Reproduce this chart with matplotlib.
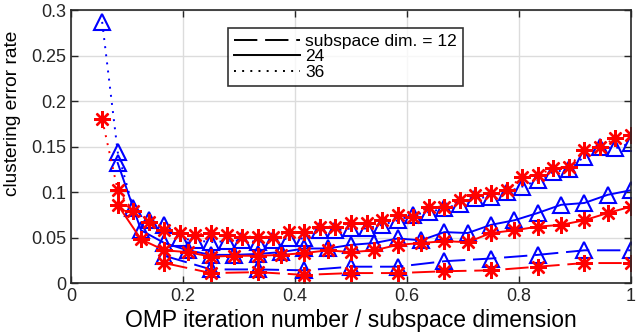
import matplotlib
matplotlib.use("Agg")
import matplotlib.pyplot as plt

# subspace dim. = 36 (dotted), x = k/36, k = 2..36
x36 = [k / 36 for k in range(2, 37)]
blue36 = [0.287, 0.144, 0.082, 0.069, 0.064, 0.049, 0.047, 0.045, 0.046, 0.047,
          0.045, 0.047, 0.049, 0.049, 0.058, 0.058, 0.060, 0.060, 0.064, 0.069,
          0.075, 0.078, 0.082, 0.087, 0.093, 0.095, 0.100, 0.106, 0.113, 0.122,
          0.125, 0.139, 0.150, 0.148, 0.154]
red36 = [0.180, 0.102, 0.079, 0.067, 0.058, 0.055, 0.053, 0.055, 0.053, 0.051,
         0.051, 0.051, 0.056, 0.056, 0.062, 0.062, 0.066, 0.066, 0.069, 0.075,
         0.073, 0.084, 0.084, 0.091, 0.097, 0.099, 0.102, 0.117, 0.119, 0.126,
         0.128, 0.146, 0.150, 0.159, 0.163]

# subspace dim. = 24 (solid), x = k/24, k = 2..24
x24 = [k / 24 for k in range(2, 25)]
blue24 = [0.132, 0.058, 0.044, 0.036, 0.031, 0.031, 0.032, 0.034, 0.038, 0.038,
          0.042, 0.044, 0.049, 0.047, 0.056, 0.055, 0.064, 0.069, 0.077, 0.086,
          0.088, 0.097, 0.102]
red24 = [0.086, 0.048, 0.036, 0.034, 0.029, 0.030, 0.030, 0.031, 0.033, 0.036,
         0.034, 0.036, 0.042, 0.044, 0.046, 0.045, 0.055, 0.058, 0.062, 0.064,
         0.069, 0.077, 0.084]

# subspace dim. = 12 (dashed), x = k/12, k = 2..12
x12 = [k / 12 for k in range(2, 13)]
blue12 = [0.030, 0.015, 0.015, 0.014, 0.018, 0.018, 0.024, 0.027, 0.031, 0.036, 0.036]
red12 = [0.022, 0.011, 0.012, 0.009, 0.011, 0.011, 0.013, 0.014, 0.018, 0.022, 0.022]

xticks = [0, 0.2, 0.4, 0.6, 0.8, 1]
xticklabels = ["0", "0.2", "0.4", "0.6", "0.8", "1"]
yticks = [0, 0.05, 0.1, 0.15, 0.2, 0.25, 0.3]
yticklabels = ["0", "0.05", "0.1", "0.15", "0.2", "0.25", "0.3"]

plt.rcParams["font.family"] = ["Liberation Sans", "DejaVu Sans"]

fig = plt.figure(figsize=(6.4, 3.35), dpi=100)
ax = fig.add_axes([0.111, 0.155, 0.875, 0.815])

LW = 1.4
STYLES = {"--": (12, 4), "-": None, ":": (1, 3.2)}
tri = dict(marker="^", markersize=11, markerfacecolor="none", markeredgewidth=1.5)
star = dict(marker=(8, 2, 0), markersize=12, markeredgewidth=1.7)


def line_kw(ls):
    kw = dict(linestyle=ls, linewidth=LW)
    if STYLES[ls] is not None:
        kw["dashes"] = STYLES[ls]
    return kw


series = [
    (x12, blue12, red12, "--"),
    (x24, blue24, red24, "-"),
    (x36, blue36, red36, ":"),
]
for xs, b, r, ls in series:
    ax.plot(xs, b, color="blue", markeredgecolor="blue", **line_kw(ls), **tri)
for xs, b, r, ls in series:
    ax.plot(xs, r, color="red", markeredgecolor="red", **line_kw(ls), **star)

# legend with black line handles
handles = []
for ls in ["--", "-", ":"]:
    h, = ax.plot([], [], color="black", **line_kw(ls))
    handles.append(h)
leg = ax.legend(handles, ["subspace dim. = 12", "24", "36"],
                loc="upper left", bbox_to_anchor=(0.28, 0.934), borderaxespad=0,
                fontsize=12.5, frameon=True, fancybox=False, handlelength=3.8,
                handletextpad=0.3, labelspacing=0.0, borderpad=0.35)
leg.get_frame().set_edgecolor("black")
leg.get_frame().set_linewidth(1.2)

ax.set_xlim(0, 1)
ax.set_ylim(0, 0.3)
ax.set_xticks(xticks)
ax.set_xticklabels(xticklabels)
ax.set_yticks(yticks)
ax.set_yticklabels(yticklabels)
ax.tick_params(direction="in", top=True, right=True, labelsize=13,
               length=5, width=1, colors="#262626")
for sp in ax.spines.values():
    sp.set_color("#262626")
    sp.set_linewidth(1.2)
ax.grid(True, color="#dcdcdc", linewidth=1)
ax.set_axisbelow(True)
ax.set_xlabel("OMP iteration number / subspace dimension", fontsize=16.5, labelpad=3)
ax.set_ylabel("clustering error rate", fontsize=13.8)
ax.yaxis.set_label_coords(-0.09, 0.62)

plt.savefig("out.png", dpi=100)
